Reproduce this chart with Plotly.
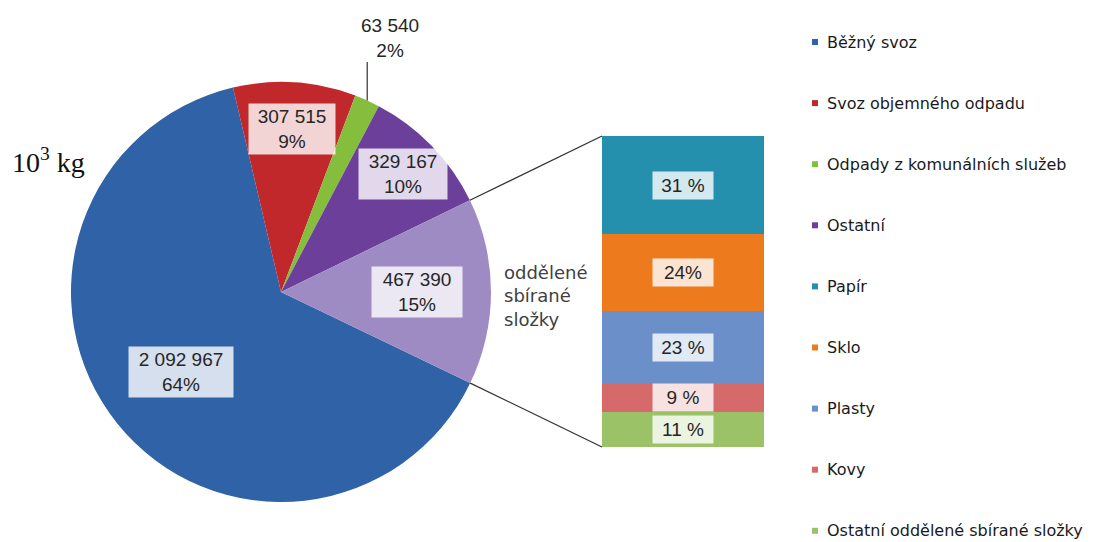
import math
import plotly.graph_objects as go

# Komunální odpad podle způsobu sběru, v tunách (10^3 kg)
pie_labels = ["Běžný svoz", "Svoz objemného odpadu", "Odpady z komunálních služeb",
              "Ostatní", "oddělené sbírané složky"]
pie_values = [2092967, 307515, 63540, 329167, 467390]
pie_value_text = ["2 092 967", "307 515", "63 540", "329 167", "467 390"]
pie_pct_text = ["64%", "9%", "2%", "10%", "15%"]

# Rozpad odděleně sbíraných složek (%)
sep_labels = ["Papír", "Sklo", "Plasty", "Kovy", "Ostatní oddělené sbírané složky"]
sep_pct = [31, 24, 23, 9, 11]
sep_pct_text = ["31 %", "24%", "23 %", "9 %", "11 %"]

# Barvy
pie_colors = ["#2F62A6", "#C0282B", "#85BD3C", "#6B3F9A", "#9F8BC3"]
sep_colors = ["#2590AE", "#EE7A1E", "#6B8FC9", "#D66A6A", "#9CC268"]

# Rozměry stránky a rozvržení
W, H = 1119, 542
PIE_CX, PIE_CY, PIE_R = 281, 292, 210
PIE_ROTATION = 115.7
BAR_X0, BAR_X1, BAR_TOP, BAR_BOTTOM = 602, 764, 136, 447
LABEL_RADIUS = [0.61, 0.78, None, 0.81, 0.65]
LABEL_WIDTH = [100, 82, None, 84, 86]

TEXT_FONT = "Liberation Sans, Arial, sans-serif"
UI_FONT = "DejaVu Sans, Verdana, sans-serif"
TEXT_COLOR = "#262626"
BOX_BG = "rgba(255,255,255,0.80)"


def px(x):
    return x / W


def py(y):
    return 1 - y / H


def pie_point(angle_deg, frac):
    """Bod na kruhu (pixely) pro úhel měřený po směru hodinek od 12 h."""
    a = math.radians(angle_deg)
    return (PIE_CX + frac * PIE_R * math.sin(a), PIE_CY - frac * PIE_R * math.cos(a))


total = sum(pie_values)
edges = [PIE_ROTATION]
for v in pie_values:
    edges.append(edges[-1] + 360.0 * v / total)
mids = [(edges[i] + edges[i + 1]) / 2 for i in range(len(pie_values))]

fig = go.Figure()

fig.add_trace(go.Pie(
    labels=pie_labels,
    values=pie_values,
    sort=False,
    direction="clockwise",
    rotation=PIE_ROTATION,
    marker=dict(colors=pie_colors, line=dict(width=0)),
    textinfo="none",
    showlegend=False,
    domain=dict(x=[px(PIE_CX - PIE_R), px(PIE_CX + PIE_R)],
                y=[py(PIE_CY + PIE_R), py(PIE_CY - PIE_R)]),
))

# Skládaný sloupec – odspodu nahoru
stack_order = list(range(len(sep_pct)))[::-1]
for i in stack_order:
    fig.add_trace(go.Bar(
        x=[0], y=[sep_pct[i]], width=1,
        name=sep_labels[i],
        marker=dict(color=sep_colors[i], line=dict(width=0)),
        showlegend=False,
        xaxis="x", yaxis="y",
    ))

annotations = []
shapes = []

# Popisky výsečí
for i, frac in enumerate(LABEL_RADIUS):
    if frac is None:
        continue
    x, y = pie_point(mids[i], frac)
    annotations.append(dict(
        x=px(x), y=py(y), xref="paper", yref="paper",
        xanchor="center", yanchor="middle",
        text=f"{pie_value_text[i]}<br>{pie_pct_text[i]}",
        showarrow=False, align="center", width=LABEL_WIDTH[i],
        font=dict(family=TEXT_FONT, size=19, color=TEXT_COLOR),
        bgcolor=BOX_BG, borderpad=2,
    ))

# Malá výseč s popiskem nad grafem a vodicí čarou
gx, gy = pie_point(mids[2], 1.0)
annotations.append(dict(
    x=px(390), y=py(38), xref="paper", yref="paper",
    xanchor="center", yanchor="middle",
    text=f"{pie_value_text[2]}<br>{pie_pct_text[2]}",
    showarrow=False, align="center",
    font=dict(family=TEXT_FONT, size=19, color=TEXT_COLOR),
))
shapes.append(dict(type="line", xref="paper", yref="paper",
                   x0=px(gx), y0=py(gy), x1=px(gx), y1=py(62),
                   line=dict(color="#404040", width=1.3)))

# Popisek rozbalené výseče
annotations.append(dict(
    x=px(502), y=py(296), xref="paper", yref="paper",
    xanchor="left", yanchor="middle",
    text="oddělené<br>sbírané<br>složky",
    showarrow=False, align="left",
    font=dict(family=UI_FONT, size=18, color="#404040"),
))

# Jednotka
annotations.append(dict(
    x=px(10), y=py(160), xref="paper", yref="paper",
    xanchor="left", yanchor="middle",
    text="10<sup>3</sup> kg", showarrow=False,
    font=dict(family="Liberation Serif, Times New Roman, serif", size=28, color="#111111"),
))

# Procenta ve sloupci
base = 0
for i in stack_order:
    annotations.append(dict(
        x=0, y=base + sep_pct[i] / 2, xref="x", yref="y",
        xanchor="center", yanchor="middle",
        text=sep_pct_text[i], showarrow=False, width=54,
        font=dict(family=TEXT_FONT, size=19, color=TEXT_COLOR),
        bgcolor=BOX_BG, borderpad=3,
    ))
    base += sep_pct[i]

# Spojnice mezi výsečí a sloupcem
lav_start = pie_point(edges[4], 1.0)
lav_end = pie_point(edges[5], 1.0)
for (sx, sy), ty in ((lav_start, BAR_TOP), (lav_end, BAR_BOTTOM)):
    shapes.append(dict(type="line", xref="paper", yref="paper",
                       x0=px(sx), y0=py(sy), x1=px(BAR_X0), y1=py(ty),
                       line=dict(color="#333333", width=1.3)))

# Legenda
legend_names = pie_labels[:4] + sep_labels
legend_colors = pie_colors[:4] + sep_colors
LEG_Y0, LEG_STEP = 42, 61.1
for k, (name, col) in enumerate(zip(legend_names, legend_colors)):
    yc = LEG_Y0 + k * LEG_STEP
    shapes.append(dict(type="rect", xref="paper", yref="paper",
                       x0=px(812), x1=px(818), y0=py(yc - 3), y1=py(yc + 3),
                       fillcolor=col, line=dict(width=0)))
    annotations.append(dict(
        x=px(825), y=py(yc), xref="paper", yref="paper",
        xanchor="left", yanchor="middle", text=name, showarrow=False,
        font=dict(family=UI_FONT, size=16, color="#1a1a1a"),
    ))

fig.update_layout(
    width=W, height=H,
    margin=dict(l=0, r=0, t=0, b=0),
    paper_bgcolor="white", plot_bgcolor="rgba(0,0,0,0)",
    barmode="stack", bargap=0,
    xaxis=dict(domain=[px(BAR_X0), px(BAR_X1)], range=[-0.5, 0.5], visible=False,
               fixedrange=True),
    yaxis=dict(domain=[py(BAR_BOTTOM), py(BAR_TOP)], range=[0, sum(sep_pct)],
               visible=False, fixedrange=True),
    annotations=annotations,
    shapes=shapes,
    showlegend=False,
)

fig.write_html("out.html")
